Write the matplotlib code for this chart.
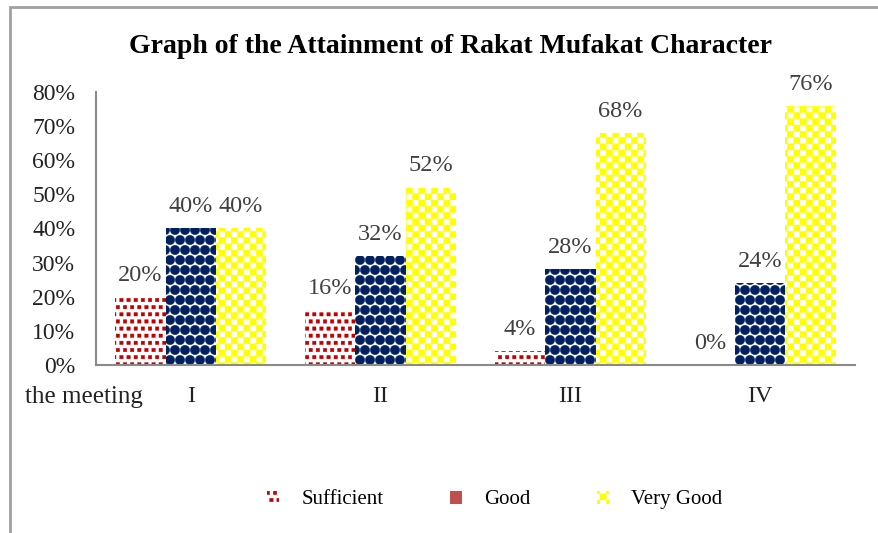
"""Bar chart: attainment of the Rakat Mufakat character over four meetings."""

import matplotlib
matplotlib.use("Agg")
import matplotlib.pyplot as plt
import matplotlib.hatch as mhatch
from matplotlib.patches import Patch, Rectangle
from matplotlib.path import Path
import numpy as np

# data
meetings = ["I", "II", "III", "IV"]
sufficient = [0.20, 0.16, 0.04, 0.00]
good = [0.40, 0.32, 0.28, 0.24]
very_good = [0.40, 0.52, 0.68, 0.76]
series_names = ["Sufficient", "Good", "Very Good"]
y_ticks = [0.0, 0.1, 0.2, 0.3, 0.4, 0.5, 0.6, 0.7, 0.8]


# Excel-like fill textures, done as custom hatches
class RedSquares(mhatch.Shapes):
    filled = True
    size = 0.24

    def __init__(self, hatch, density):
        self.num_rows = hatch.count(".") * 14
        sq = Path.unit_rectangle()
        self.shape_vertices = sq.vertices * 2 - 1
        self.shape_codes = sq.codes
        super().__init__(hatch, density)


class NavyDots(mhatch.Circles):
    filled = True
    size = 0.47

    def __init__(self, hatch, density):
        self.num_rows = hatch.count("O") * 10
        super().__init__(hatch, density)


class Checker(mhatch.HatchPatternBase):
    def __init__(self, hatch, density):
        self.n = hatch.count("*") * 16
        self.cells = [(i, j) for i in range(self.n) for j in range(self.n)
                      if (i + j) % 2 == 0]
        self.num_vertices = len(self.cells) * 5

    def set_vertices_and_codes(self, vertices, codes):
        sq = Path.unit_rectangle()
        vertices[:] = np.concatenate([(sq.vertices + [i, j]) / self.n
                                      for i, j in self.cells])
        codes[:] = np.tile(sq.codes, len(self.cells))


swap = {mhatch.SmallFilledCircles: RedSquares,
        mhatch.LargeCircles: NavyDots,
        mhatch.Stars: Checker}
mhatch._hatch_types = [swap.get(t, t) for t in mhatch._hatch_types]

plt.rcParams["font.family"] = ["Liberation Serif", "DejaVu Serif"]
plt.rcParams["hatch.linewidth"] = 0.3

fig = plt.figure(figsize=(8.79, 5.33), dpi=100)
ax = fig.add_axes([0.1092, 0.3152, 0.8635, 0.5122])

x = np.arange(len(meetings))
w = 0.265
styles = [
    dict(facecolor="white", edgecolor="#C00000", hatch="."),
    dict(facecolor="white", edgecolor="#002060", hatch="O"),
    dict(facecolor="white", edgecolor="#FFFF00", hatch="*"),
]
for k, (vals, st) in enumerate(zip([sufficient, good, very_good], styles)):
    bars = ax.bar(x + (k - 1) * w, vals, w, linewidth=0, **st)
    ax.bar_label(bars, labels=[f"{v:.0%}" for v in vals], padding=8,
                 fontsize=17.5, color="#404040")

ax.set_xlim(-0.5, 3.5)
ax.set_ylim(0, 0.8)
ax.set_yticks(y_ticks)
ax.set_yticklabels([f"{t:.0%}" for t in y_ticks])
ax.set_xticks(x)
ax.set_xticklabels(meetings)
ax.tick_params(axis="y", length=0, pad=15, labelsize=17, labelcolor="#222222")
ax.tick_params(axis="x", length=0, pad=15, labelsize=17.5, labelcolor="#222222")
for side in ["top", "right"]:
    ax.spines[side].set_visible(False)
for side in ["left", "bottom"]:
    ax.spines[side].set_color("#8a8a8a")
    ax.spines[side].set_linewidth(1.5)

fig.text(25 / 879, 1 - 403 / 533, "the meeting", fontsize=18,
         color="#222222", va="baseline", ha="left")

fig.text(0.513, 1 - 53 / 533, "Graph of the Attainment of Rakat Mufakat Character",
         fontsize=20, fontweight="bold", ha="center", va="baseline")

handles = [
    Patch(facecolor="white", edgecolor="#C00000", hatch=".", linewidth=0),
    Patch(facecolor="#C0504D", linewidth=0),
    Patch(facecolor="white", edgecolor="#FFFF00", hatch="*", linewidth=0),
]
fig.legend(handles, series_names, loc="center", bbox_to_anchor=(0.563, 0.062),
           ncol=3, frameon=False, fontsize=15, handlelength=0.58,
           handleheight=0.58, handletextpad=1.05, columnspacing=3.2)

# outer chart frame (only left and top edges fall inside the picture)
fig.add_artist(Rectangle((10 / 879, -0.1), 1.2, 1 - 7 / 533 + 0.1,
                         transform=fig.transFigure, fill=False,
                         edgecolor="#a0a0a0", linewidth=2))

fig.savefig("out.png", dpi=100, facecolor="white")
